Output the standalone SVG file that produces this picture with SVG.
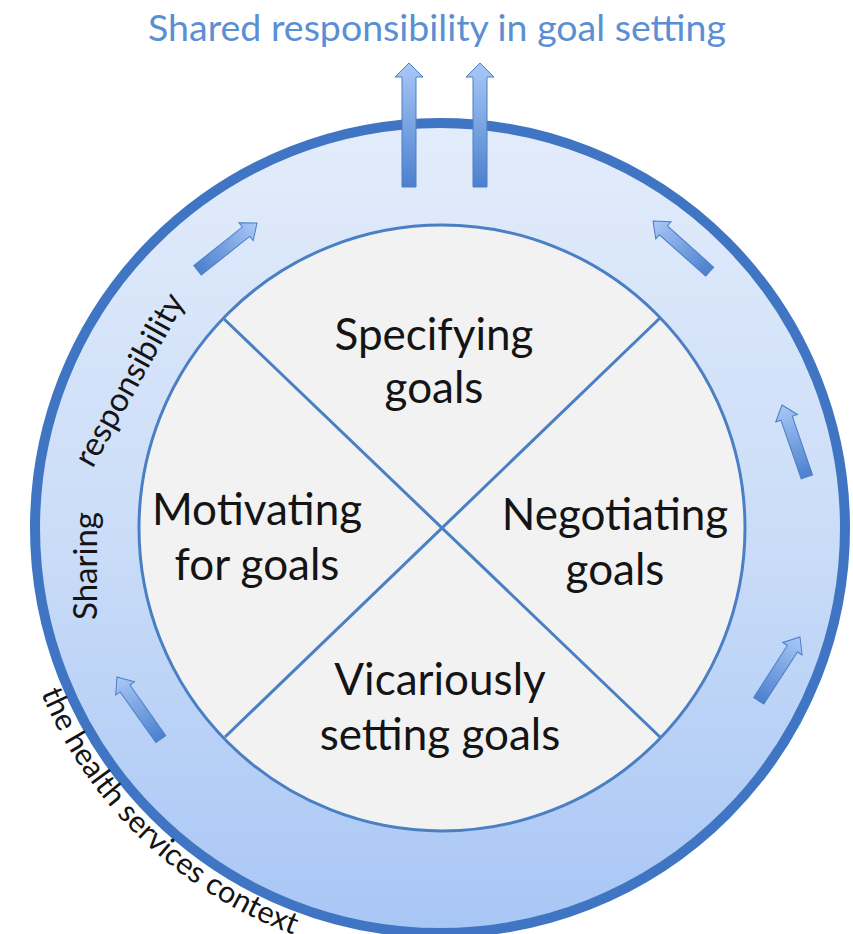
<svg xmlns="http://www.w3.org/2000/svg" xmlns:xlink="http://www.w3.org/1999/xlink" width="853" height="934" viewBox="0 0 853 934">
  <style>
    .quad { font-family: Lato, "Liberation Sans", sans-serif; font-size: 44px; fill: #141414; text-anchor: middle; }
    .ring { font-family: Lato, "Liberation Sans", sans-serif; font-size: 33px; fill: #141414; }
    .ctx { font-family: Lato, "Liberation Sans", sans-serif; font-size: 30.5px; fill: #141414; }
    .title { font-family: Lato, "Liberation Sans", sans-serif; font-size: 37.5px; fill: #5b8fd3; text-anchor: middle; }
    .divider { stroke: #4a7fc4; stroke-width: 3; fill: none; }
    .arrow { fill: url(#arrowGrad); stroke: #4a7ec6; stroke-width: 1; }
  </style>
  <defs>
    <linearGradient id="ringGrad" x1="0" y1="0" x2="0" y2="1">
      <stop offset="0" stop-color="#e3ecfb"/>
      <stop offset="0.5" stop-color="#cbddf8"/>
      <stop offset="1" stop-color="#a8c6f5"/>
    </linearGradient>
    <linearGradient id="arrowGrad" x1="0" y1="0" x2="0" y2="1">
      <stop offset="0" stop-color="#a9c8f7"/>
      <stop offset="1" stop-color="#4b80cd"/>
    </linearGradient>
    <path id="smallArrow" class="arrow" d="M0,0 L11.5,14 L6,14 L6,76 L-6,76 L-6,14 L-11.5,14 Z"/>
    <path id="bigArrow" class="arrow" d="M0,0 L14,14 L7,14 L7,124 L-7,124 L-7,14 L-14,14 Z"/>
    <path id="contextPath" d="M14.6,603 A435,435 0 0 0 515,955"/>
  </defs>

  <text class="title" x="437" y="41">Shared responsibility in goal setting</text>

  <g id="outer-ring">
    <circle cx="440" cy="528" r="405" fill="url(#ringGrad)" stroke="#3f75c2" stroke-width="10"/>
  </g>

  <g id="inner-circle">
    <circle cx="442" cy="528" r="303" fill="#f2f2f2" stroke="#4a7fc4" stroke-width="3"/>
  </g>

  <g id="connectors">
    <line class="divider" x1="223" y1="318" x2="660" y2="737"/>
    <line class="divider" x1="660" y1="318" x2="225" y2="737"/>
  </g>

  <g id="specifying">
    <text class="quad" x="434" y="350">Specifying</text>
    <text class="quad" x="434" y="403">goals</text>
  </g>
  <g id="motivating">
    <text class="quad" x="257" y="525">Motivating</text>
    <text class="quad" x="257" y="580">for goals</text>
  </g>
  <g id="negotiating">
    <text class="quad" x="615" y="530">Negotiating</text>
    <text class="quad" x="615" y="585">goals</text>
  </g>
  <g id="vicariously">
    <text class="quad" x="440" y="695">Vicariously</text>
    <text class="quad" x="440" y="750">setting goals</text>
  </g>

  <g id="ring-arrows">
    <use xlink:href="#smallArrow" transform="translate(257,223) rotate(51.5)"/>
    <use xlink:href="#smallArrow" transform="translate(653,221) rotate(-48.2)"/>
    <use xlink:href="#smallArrow" transform="translate(782,405) rotate(-19.1)"/>
    <use xlink:href="#smallArrow" transform="translate(800,637) rotate(32.9)"/>
    <use xlink:href="#smallArrow" transform="translate(117,677) rotate(-35.2)"/>
  </g>

  <g id="output-arrows">
    <use xlink:href="#bigArrow" transform="translate(409,63)"/>
    <use xlink:href="#bigArrow" transform="translate(480,63)"/>
  </g>

  <g id="ring-labels">
    <text class="ring" text-anchor="middle" transform="translate(97,566) rotate(-90)">Sharing</text>
    <text class="ring" text-anchor="middle" transform="translate(139,385) rotate(-61)">responsibility</text>
    <text class="ctx"><textPath xlink:href="#contextPath" startOffset="94">the health services context</textPath></text>
  </g>
</svg>
